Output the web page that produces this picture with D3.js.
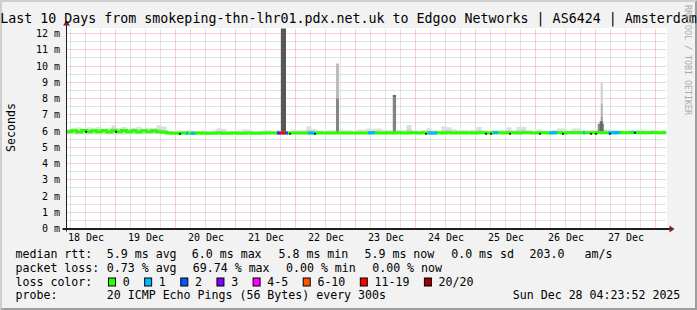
<!DOCTYPE html>
<html>
<head>
<meta charset="utf-8">
<script src="https://cdn.jsdelivr.net/npm/d3@7"></script>
<style>
  html, body { margin: 0; padding: 0; background: #f2f2f2; }
  svg { display: block; }
  text { font-family: "DejaVu Sans Mono", monospace; fill: #000; }
</style>
</head>
<body>
<svg id="chart" width="697" height="310"></svg>
<script>
// ==== data ====
const endTime   = new Date(Date.UTC(2025, 11, 28, 4, 23, 52));
const startTime = new Date(endTime.getTime() - 10 * 864e5);
const binHours  = 2;

// median rtt (ms), one value per 2 hour bin, one row per day
const medianMs = [
  5.96,6.02,5.94,6.03,5.95,6.02,5.96,6.03,5.94,6.02,5.95,6.03,
  5.96,6.02,5.94,6.01,5.95,6.02,5.96,5.92,5.87,5.86,5.86,5.87,
  5.86,5.86,5.87,5.86,5.86,5.86,5.87,5.86,5.86,5.87,5.86,5.86,
  5.87,5.86,5.86,5.87,5.87,5.87,5.88,5.87,5.87,5.88,5.87,5.87,
  5.88,5.87,5.87,5.88,5.87,5.88,5.87,5.87,5.88,5.87,5.88,5.87,
  5.88,5.89,5.88,5.88,5.89,5.88,5.89,5.88,5.88,5.89,5.88,5.89,
  5.88,5.88,5.89,5.88,5.89,5.88,5.89,5.88,5.89,5.88,5.89,5.89,
  5.88,5.89,5.89,5.88,5.89,5.89,5.88,5.89,5.89,5.88,5.89,5.89,
  5.88,5.89,5.89,5.88,5.90,5.89,5.90,5.90,5.89,5.90,5.91,5.90,
  5.89,5.90,5.91,5.90,5.90,5.91,5.90,5.89,5.90,5.91,5.90,5.90
];

// top of the smoke (ms), same bins
const smokeHiMs = [
  6.12,6.18,6.22,6.15,6.22,6.18,6.25,6.15,6.20,6.35,6.18,6.24,
  6.16,6.20,6.26,6.15,6.20,6.18,6.35,6.28,6.02,6.00,6.04,6.02,
  6.06,6.02,6.00,6.04,6.02,6.06,6.17,6.12,6.02,6.00,6.04,6.10,
  6.08,6.02,6.00,6.04,6.04,6.02,6.06,6.04,6.02,6.10,6.04,6.06,
  6.30,6.12,6.04,6.02,6.06,6.04,6.10,6.06,6.04,6.02,6.08,6.10,
  6.16,6.14,6.16,6.08,6.04,6.02,6.06,6.04,6.37,6.05,6.02,6.04,
  6.17,6.04,6.02,6.30,6.23,6.12,6.04,6.06,6.04,6.08,6.26,6.04,
  6.02,6.06,6.04,6.08,6.23,6.04,6.26,6.26,6.04,6.02,6.10,6.04,
  6.02,6.06,6.16,6.16,6.04,6.16,6.16,6.06,6.04,6.08,6.10,6.12,
  6.10,6.06,6.04,6.02,6.06,6.08,6.10,6.10,6.04,6.06,6.02,6.04
];

// bottom of the smoke (ms), one value per day
const smokeLoMs = [5.78, 5.80, 5.80, 5.80, 5.80, 5.80, 5.80, 5.80, 5.80, 5.80];

// outlier smoke: [start (UTC), minutes, from ms, to ms, density 0..1]
const smokeBlocks = [
  ['2025-12-21T18:12', 120, 5.95, 14.00, 0.80],
  ['2025-12-22T16:12',  72, 8.00, 10.15, 0.25],
  ['2025-12-22T16:12',  72, 5.95,  8.00, 0.55],
  ['2025-12-23T14:54',  80, 5.95,  8.05, 0.55],
  ['2025-12-23T14:54',  80, 8.05,  8.22, 0.70],
  ['2025-12-27T00:54', 150, 5.95,  6.45, 0.50],
  ['2025-12-27T02:06',  48, 7.70,  8.97, 0.15],
  ['2025-12-27T02:06',  48, 6.90,  7.70, 0.30],
  ['2025-12-27T02:06',  48, 6.45,  6.90, 0.45],
  ['2025-12-27T01:42',  72, 5.95,  6.60, 0.70]
];

// packet loss: [start (UTC), minutes, lost pings of 20]
const lossEvents = [
  ['2025-12-20T04:12',  48, 1],
  ['2025-12-20T06:12',  96, 1],
  ['2025-12-21T16:36',  96, 3],
  ['2025-12-21T18:12', 120, 14],
  ['2025-12-21T20:12',  48, 2],
  ['2025-12-22T05:00', 168, 1],
  ['2025-12-23T05:00', 168, 1],
  ['2025-12-24T05:00', 216, 1],
  ['2025-12-25T07:00', 120, 1],
  ['2025-12-26T05:24', 192, 1],
  ['2025-12-26T19:00',  48, 1],
  ['2025-12-27T05:00', 288, 1],
  ['2025-12-27T15:00',  48, 1]
];

// samples with no data
const unknownAt = [
  '2025-12-18T12:12', '2025-12-19T00:12', '2025-12-20T01:48', '2025-12-21T21:48',
  '2025-12-22T07:48', '2025-12-24T04:12', '2025-12-25T04:12', '2025-12-25T06:12',
  '2025-12-25T13:48', '2025-12-26T01:48', '2025-12-26T11:00', '2025-12-26T22:12',
  '2025-12-27T00:12', '2025-12-27T05:48', '2025-12-27T15:48'
];

const yTicks      = d3.range(0, 13);
const lossLabels  = ['0', '1', '2', '3', '4-5', '6-10', '11-19', '20/20'];
const lossColors  = ['#26ff00', '#00b8ff', '#0059ff', '#7e00ff', '#ff00ff', '#ff5500', '#ff0000', '#a10000'];
const lossBounds  = [1, 2, 3, 4, 6, 11, 20];

const titleText = 'Last 10 Days from smokeping-thn-lhr01.pdx.net.uk to Edgoo Networks | AS6424 | Amsterdam';
const rttItems  = ['median rtt:', '5.9 ms avg', '6.0 ms max', '5.8 ms min', '5.9 ms now', '0.0 ms sd', '203.0', 'am/s'];
const lossItems = ['packet loss:', '0.73 % avg', '69.74 % max', '0.00 % min', '0.00 % now'];
const probeItems = ['probe:', '20 ICMP Echo Pings (56 Bytes) every 300s', 'Sun Dec 28 04:23:52 2025'];

// ==== layout ====
const W = 697, H = 310;
const X0 = 66.5, X1 = 666.5, Y0 = 228.5, Y1 = 28.5;
const rttX   = [15.5, 106.8, 191.8, 278.5, 364.5, 451.2, 529.5, 584.5];
const lossX  = [15.5, 106.8, 192.8, 286.0, 372.2];
const probeX = [15.5, 106.8, 512.8];
const lineY  = [258.3, 271.9, 285.6, 299.3];
const FS = 11.6, CW = FS * 0.602;

const parse = d3.utcParse('%Y-%m-%dT%H:%M');
const svg = d3.select('#chart');

const x = d3.scaleUtc().domain([startTime, endTime]).range([X0, X1]);
const y = d3.scaleLinear().domain([0, 200 / 16.25]).range([Y0, Y1]);
const lossColor = d3.scaleThreshold().domain(lossBounds).range(lossColors);
const shade = d3.scaleLinear().domain([0, 1]).range(['#e8e8e8', '#333333']);

const binTime = i => d3.utcHour.offset(startTime, i * binHours);
const binOf = t => Math.min(medianMs.length - 1, Math.max(0, Math.floor((t - startTime) / (binHours * 36e5))));
const crisp = v => Math.round(v - 0.5) + 0.5;

// background and bevel
svg.append('rect').attr('width', W).attr('height', H).attr('fill', '#f2f2f2');
svg.append('path').attr('d', `M0,0H${W}L${W - 2},2H2V${H - 2}L0,${H}Z`).attr('fill', '#cfcfcf');
svg.append('path').attr('d', `M${W},0V${H}H0L2,${H - 2}H${W - 2}V2Z`).attr('fill', '#9e9e9e');

svg.append('rect')
  .attr('x', X0 + 0.5).attr('y', Y1 - 0.5)
  .attr('width', X1 - X0).attr('height', Y0 - Y1 + 0.5)
  .attr('fill', '#fff');

svg.append('clipPath').attr('id', 'plot')
  .append('rect').attr('x', X0).attr('y', Y1).attr('width', X1 - X0).attr('height', Y0 - Y1);

// grid
const grid = svg.append('g').attr('stroke-dasharray', '1,1').attr('fill', 'none');
const minorV = d3.utcHour.every(6).range(startTime, endTime).filter(d => d.getUTCHours() !== 0);
const majorV = d3.utcDay.range(startTime, endTime);
const minorH = d3.range(0.5, 12.5, 1);
const majorH = yTicks.filter(v => v > 0);
const minorCol = 'rgba(143,143,143,0.5)', majorCol = 'rgba(222,79,79,0.5)';

grid.selectAll('.gv').data(minorV).join('line')
  .attr('x1', d => crisp(x(d))).attr('x2', d => crisp(x(d)))
  .attr('y1', Y0).attr('y2', Y1).attr('stroke', minorCol);
grid.selectAll('.gh').data(minorH).join('line')
  .attr('x1', X0).attr('x2', X1)
  .attr('y1', d => crisp(y(d))).attr('y2', d => crisp(y(d)))
  .attr('stroke', minorCol);
grid.selectAll('.mv').data(majorV).join('line')
  .attr('x1', d => crisp(x(d))).attr('x2', d => crisp(x(d)))
  .attr('y1', Y0).attr('y2', Y1).attr('stroke', majorCol);
grid.selectAll('.mh').data(majorH).join('line')
  .attr('x1', X0).attr('x2', X1)
  .attr('y1', d => crisp(y(d))).attr('y2', d => crisp(y(d)))
  .attr('stroke', majorCol);

// smoke
const plot = svg.append('g').attr('clip-path', 'url(#plot)');
const bins = medianMs.map((m, i) => ({
  t: binTime(i), m, hi: smokeHiMs[i], lo: smokeLoMs[Math.floor(i / 12)]
}));
const stepPts = bins.concat([{ ...bins[bins.length - 1], t: endTime }]);

plot.append('path').datum(stepPts)
  .attr('fill', '#dedede')
  .attr('d', d3.area().curve(d3.curveStepAfter).x(d => x(d.t)).y0(d => y(d.lo)).y1(d => y(d.hi)));
plot.append('path').datum(stepPts)
  .attr('fill', '#cdcdcd')
  .attr('d', d3.area().curve(d3.curveStepAfter).x(d => x(d.t))
    .y0(d => y(d.m - 0.05)).y1(d => y(d.m + (d.hi - d.m) * 0.45)));

plot.selectAll('.blk').data(smokeBlocks).join('rect')
  .attr('x', d => x(parse(d[0])))
  .attr('width', d => x(d3.utcMinute.offset(parse(d[0]), d[1])) - x(parse(d[0])))
  .attr('y', d => y(d[3]))
  .attr('height', d => y(d[2]) - y(d[3]))
  .attr('fill', d => shade(d[4]));

// median line coloured by loss
plot.append('path').datum(stepPts)
  .attr('fill', 'none').attr('stroke', lossColors[0]).attr('stroke-width', 3)
  .attr('d', d3.line().curve(d3.curveStepAfter).x(d => x(d.t)).y(d => y(d.m)));

plot.selectAll('.loss').data(lossEvents).join('line')
  .attr('x1', d => x(parse(d[0])))
  .attr('x2', d => x(d3.utcMinute.offset(parse(d[0]), d[1])))
  .attr('y1', d => y(medianMs[binOf(d3.utcMinute.offset(parse(d[0]), d[1] / 2))]))
  .attr('y2', d => y(medianMs[binOf(d3.utcMinute.offset(parse(d[0]), d[1] / 2))]))
  .attr('stroke', d => lossColor(d[2])).attr('stroke-width', 3);

plot.selectAll('.unk').data(unknownAt).join('rect')
  .attr('x', d => Math.round(x(parse(d))) - 1)
  .attr('y', d => Math.round(y(medianMs[binOf(parse(d))])))
  .attr('width', 2).attr('height', 1.5).attr('fill', '#000');

// axes
const yAxis = svg.append('g').attr('transform', `translate(${X0},0)`)
  .call(d3.axisLeft(y).tickValues(yTicks).tickFormat(d => `${d} m`).tickSize(0).tickPadding(6.5));
const noon = [d3.utcHour.offset(majorV[0], -12)]
  .concat(majorV.map(d => d3.utcHour.offset(d, 12)))
  .filter(d => d > startTime && d < endTime);
const xAxis = svg.append('g').attr('transform', `translate(0,${Y0})`)
  .call(d3.axisBottom(x).tickValues(noon).tickFormat(d3.utcFormat('%d %b')).tickSize(0).tickPadding(4.9));
[yAxis, xAxis].forEach(g => {
  g.select('.domain').remove();
  g.selectAll('text').style('font-family', '"DejaVu Sans Mono", monospace').style('font-size', '10px').attr('fill', '#000');
});

svg.append('line').attr('x1', X0).attr('x2', X0).attr('y1', Y0 + 3).attr('y2', Y1 - 5)
  .attr('stroke', '#1f1f1f').attr('stroke-width', 1);
svg.append('line').attr('x1', X0 - 4).attr('x2', X1 + 4).attr('y1', Y0 + 0.5).attr('y2', Y0 + 0.5)
  .attr('stroke', '#1f1f1f').attr('stroke-width', 2);
svg.append('path').attr('fill', '#801f1f')
  .attr('d', `M${X0 - 3.5},${Y1 - 3}L${X0 + 3.5},${Y1 - 3}L${X0},${Y1 - 8}Z`);
svg.append('path').attr('fill', '#801f1f')
  .attr('d', `M${X1 + 3},${Y0 - 3}L${X1 + 3},${Y0 + 4}L${X1 + 8},${Y0 + 0.5}Z`);

// title, axis label, watermark
svg.append('text').attr('x', W / 2).attr('y', 23.3).attr('text-anchor', 'middle')
  .style('font-size', '13.3px').attr('xml:space', 'preserve').text(titleText);
svg.append('text').attr('transform', 'translate(15,127.5) rotate(-90)').attr('text-anchor', 'middle')
  .style('font-size', `${FS}px`).text('Seconds');
svg.append('text').attr('transform', 'translate(685,5) rotate(90)')
  .style('font-size', '8.3px').style('fill', '#aaa').text('RRDTOOL / TOBI OETIKER');

// legend
const legend = svg.append('g').style('font-size', `${FS}px`).attr('xml:space', 'preserve');
const row = (items, xs, yy) => legend.selectAll(null).data(items).join('text')
  .attr('x', (d, i) => xs[i]).attr('y', yy).text(d => d);
row(rttItems, rttX, lineY[0]);
row(lossItems, lossX, lineY[1]);
row(['loss color:'], [15.5], lineY[2]);
row(probeItems, probeX, lineY[3]);

let bx = 108.5;
lossLabels.forEach((lab, i) => {
  legend.append('rect').attr('x', bx).attr('y', lineY[2] - 7.6).attr('width', 7).attr('height', 8)
    .attr('fill', lossColors[i]).attr('stroke', '#000').attr('stroke-width', 1);
  legend.append('text').attr('x', bx + 14.2).attr('y', lineY[2]).text(lab);
  bx += 16 + CW * (lab.length + 2) - 0.8;
});
</script>
</body>
</html>
